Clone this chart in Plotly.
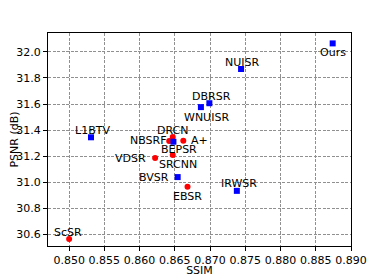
import plotly.graph_objects as go

# Blue (square) methods
blue_names = ["Ours", "NUISR", "DBRSR", "WNUISR", "L1BTV", "IRWSR", "BVSR", "BEPSR"]
blue_ssim = [0.8874, 0.8744, 0.8699, 0.8687, 0.8531, 0.8738, 0.8654, 0.8648]
blue_psnr = [32.066, 31.869, 31.606, 31.576, 31.344, 30.932, 31.038, 31.310]

# Red (circle) methods
red_names = ["ScSR", "EBSR", "VDSR", "SRCNN", "DRCN", "A+", "NBSRF"]
red_ssim = [0.8500, 0.8668, 0.8622, 0.8647, 0.8647, 0.8662, 0.8642]
red_psnr = [30.561, 30.963, 31.184, 31.208, 31.346, 31.318, 31.316]

# label offsets in pixels (dx, dy screen; dy positive = down) and anchor
label_style = {
    "Ours": (0, 9, "center"),
    "NUISR": (1, -7, "center"),
    "DBRSR": (2, -7, "center"),
    "WNUISR": (6, 10, "center"),
    "L1BTV": (2, -7, "center"),
    "IRWSR": (2, -7, "center"),
    "BVSR": (-7, 0, "right"),
    "BEPSR": (6, 7.5, "center"),
    "ScSR": (-1, -6.5, "center"),
    "EBSR": (0, 10, "center"),
    "VDSR": (-7, 0, "right"),
    "SRCNN": (5, 10, "center"),
    "DRCN": (0, -7, "center"),
    "A+": (6, 0, "left"),
    "NBSRF": (0, 0, "right"),
}

FONT = "DejaVu Sans"
fig = go.Figure()
fig.add_trace(go.Scatter(x=red_ssim, y=red_psnr, mode="markers",
                         marker=dict(color="#ff0000", size=6, symbol="circle"),
                         showlegend=False, cliponaxis=False))
fig.add_trace(go.Scatter(x=blue_ssim, y=blue_psnr, mode="markers",
                         marker=dict(color="#0000ff", size=6, symbol="square"),
                         showlegend=False, cliponaxis=False))

annotations = []
for names, xs, ys in [(blue_names, blue_ssim, blue_psnr), (red_names, red_ssim, red_psnr)]:
    for n, x, y in zip(names, xs, ys):
        dx, dy, anc = label_style[n]
        annotations.append(dict(x=x, y=y, text=n, showarrow=False,
                                xanchor=anc, yanchor="middle",
                                xshift=dx, yshift=-dy,
                                font=dict(family=FONT, size=11, color="black")))

axis_common = dict(showline=True, linecolor="black", linewidth=1, mirror=True,
                   ticks="outside", ticklen=4, tickcolor="black", automargin=False,
                   showgrid=True, gridcolor="#909090", griddash="3px,1.5px", gridwidth=1,
                   zeroline=False, tickfont=dict(family=FONT, size=11, color="black"))

# page body has an 8px default margin, so the figure is drawn 8px in from the top-left
fig.update_layout(
    width=382, height=269,
    margin=dict(l=40, r=39, t=25, b=31),
    plot_bgcolor="white", paper_bgcolor="white",
    annotations=annotations,
    xaxis=dict(range=[0.847, 0.890], tickvals=[0.850, 0.855, 0.860, 0.865, 0.870, 0.875, 0.880, 0.885, 0.890],
               tickformat=".3f",
               title=dict(text="SSIM", font=dict(family=FONT, size=11, color="black"), standoff=4),
               **axis_common),
    yaxis=dict(range=[30.508, 32.146], tickvals=[30.6, 30.8, 31.0, 31.2, 31.4, 31.6, 31.8, 32.0],
               tickformat=".1f",
               title=dict(text="PSNR (dB)", font=dict(family=FONT, size=11, color="black"), standoff=4),
               **axis_common),
)

fig.write_html("out.html")
